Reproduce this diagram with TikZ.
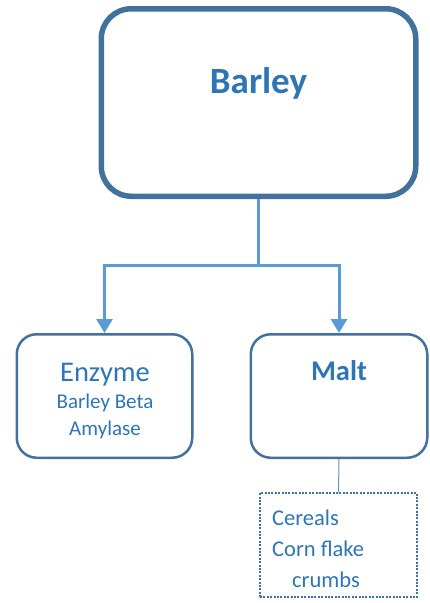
\documentclass[tikz,border=0pt]{standalone}
\usepackage{fontspec}
\setmainfont{Carlito}
\usetikzlibrary{arrows.meta}
\definecolor{cframe}{RGB}{65,113,156}
\definecolor{ctext}{RGB}{46,117,182}
\definecolor{clink}{RGB}{91,155,213}
\definecolor{cthin}{RGB}{110,145,185}
\tikzset{
  topbox/.style={draw=cframe,line width=5.5pt,rounded corners=30pt,inner sep=0pt},
  subbox/.style={draw=cframe,line width=2.5pt,rounded corners=20pt,inner sep=0pt},
  dotbox/.style={draw=cframe,line width=2pt,dash pattern=on 2pt off 1.4pt,inner sep=0pt},
  txt/.style={text=ctext,anchor=base,inner sep=0pt},
  link/.style={draw=clink,line width=3pt,-{Triangle[width=16pt,length=14pt]}}
}

\begin{document}
\begin{tikzpicture}[x=1pt,y=-1pt]
    \useasboundingbox (0,0) rectangle (429,603);
    % boxes
    \node[topbox,minimum width=314.5pt,minimum height=187.5pt] (barley) at (258.5,102.5) {};
    \node[subbox,minimum width=175.5pt,minimum height=123.5pt] (enzyme) at (104.5,396) {};
    \node[subbox,minimum width=176.5pt,minimum height=123.5pt] (malt) at (339,396) {};
    \node[dotbox,minimum width=157pt,minimum height=104pt] (uses) at (338.5,545) {};
    % texts
    \node[txt,font=\fontsize{37}{42}\selectfont\bfseries] (barleytxt) at (258.5,93) {Barley};
    \node[txt,font=\fontsize{28.5}{32}\selectfont] (enzymetxt) at (105,381) {Enzyme};
    \node[txt,font=\fontsize{21}{24}\selectfont] (betatxt) at (105,408) {Barley Beta};
    \node[txt,font=\fontsize{21}{24}\selectfont] (amytxt) at (105,435) {Amylase};
    \node[txt,font=\fontsize{28.5}{32}\selectfont\bfseries] (malttxt) at (339,380) {Malt};
    \node[txt,anchor=base west,font=\fontsize{22.5}{26}\selectfont] (cerealtxt) at (272,525) {Cereals};
    \node[txt,anchor=base west,font=\fontsize{22.5}{26}\selectfont] (corntxt) at (272,556) {Corn flake};
    \node[txt,font=\fontsize{22.5}{26}\selectfont] (crumbtxt) at (326,587) {crumbs};
    % connectors
    \coordinate (split) at (258.5,265.5);
    \draw[clink,line width=3pt] (barley.south) -- (split);
    \draw[link] (split) -| (enzyme.north);
    \draw[link] (split) -| (malt.north);
    \draw[cthin,line width=1pt] (malt.south) -- (uses.north);
\end{tikzpicture}
\end{document}
